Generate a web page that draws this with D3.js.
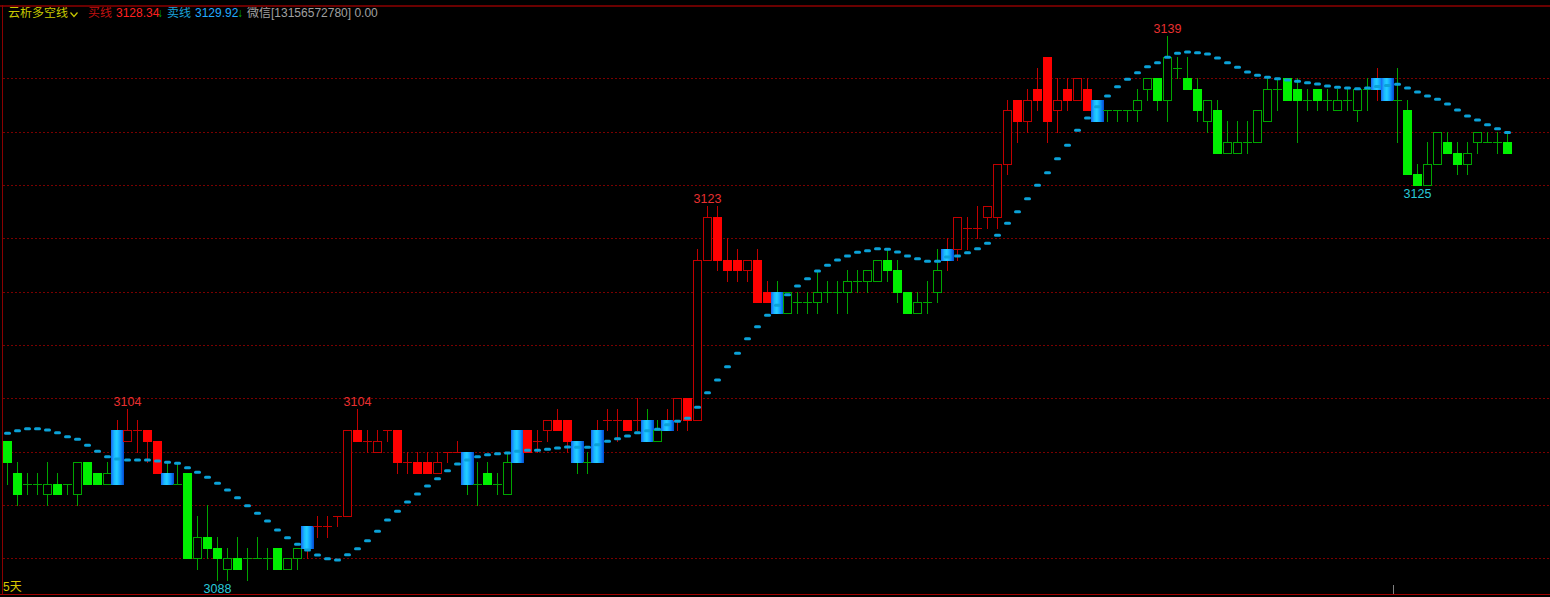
<!DOCTYPE html>
<html><head><meta charset="utf-8">
<script src="https://cdn.jsdelivr.net/npm/d3@7/dist/d3.min.js"></script>
<style>html,body{margin:0;padding:0;background:#000;overflow:hidden}svg{display:block}</style>
</head><body>
<svg id="c" width="1550" height="597"></svg>
<script>
// ---------------- data ----------------
const open = [
3101,3098,3097,3097,3096,3097,3097,3096,3099,3098,
3097,3097,3101,3102,3102,3101,3098,3097,3098,3090,
3092,3091,3089,3090,3090,3090,3090,3091,3089,3090,
3091,3093,3093,3094,3094,3102,3101,3100,3102,3102,
3099,3099,3099,3098,3100,3100,3100,3097,3098,3097,
3096,3099,3102,3101,3102,3103,3103,3101,3099,3099,
3103,3103,3103,3103,3103,3101,3102,3103,3105,3103,
3118,3122,3118,3118,3117,3118,3115,3115,3113,3114,
3114,3114,3115,3115,3115,3116,3116,3116,3118,3117,
3115,3113,3114,3115,3118,3119,3121,3121,3122,3122,
3127,3133,3131,3134,3137,3132,3134,3133,3134,3133,
3132,3132,3132,3132,3134,3135,3133,3136,3135,3134,
3131,3132,3128,3128,3129,3129,3131,3134,3135,3134,
3133,3134,3133,3132,3133,3132,3134,3134,3135,3133,
3132,3126,3125,3127,3129,3128,3127,3129,3129,3129,
3129];
const high = [
3101,3099,3098,3098,3099,3098,3097,3099,3099,3098,
3099,3103,3104,3103,3102,3101,3099,3099,3098,3094,
3095,3092,3091,3092,3091,3092,3091,3091,3090,3091,
3093,3094,3094,3094,3102,3104,3102,3102,3102,3102,
3100,3100,3100,3100,3100,3101,3100,3099,3099,3098,
3100,3102,3102,3102,3103,3104,3103,3101,3100,3103,
3104,3104,3103,3105,3104,3103,3104,3105,3105,3119,
3123,3123,3120,3119,3118,3119,3116,3116,3115,3115,
3115,3117,3116,3116,3117,3117,3117,3118,3119,3118,
3115,3115,3116,3119,3120,3122,3122,3123,3123,3127,
3133,3133,3134,3136,3137,3135,3135,3135,3135,3133,
3132,3132,3132,3134,3135,3135,3139,3137,3137,3135,
3133,3133,3131,3131,3131,3132,3135,3135,3135,3135,
3134,3134,3134,3134,3134,3134,3135,3136,3135,3136,
3133,3127,3129,3130,3130,3129,3129,3130,3130,3130,
3130];
const low = [
3097,3095,3096,3096,3095,3096,3096,3095,3097,3097,
3097,3097,3101,3100,3099,3098,3097,3097,3090,3089,
3090,3088,3088,3089,3088,3090,3089,3089,3089,3089,
3090,3092,3092,3093,3094,3101,3100,3100,3101,3098,
3098,3098,3098,3098,3099,3100,3096,3095,3097,3096,
3096,3099,3100,3100,3101,3102,3100,3098,3098,3099,
3102,3101,3102,3102,3101,3101,3102,3102,3102,3103,
3118,3117,3116,3116,3116,3114,3114,3113,3113,3113,
3113,3113,3114,3113,3113,3115,3115,3116,3116,3114,
3113,3113,3113,3114,3117,3118,3119,3120,3121,3121,
3126,3129,3130,3132,3129,3130,3132,3133,3132,3131,
3131,3131,3131,3131,3133,3132,3131,3135,3134,3131,
3130,3128,3128,3128,3128,3129,3131,3132,3133,3129,
3132,3132,3132,3132,3132,3131,3132,3133,3133,3129,
3126,3125,3125,3127,3128,3126,3126,3128,3129,3128,
3128];
const close = [
3099,3096,3097,3097,3097,3096,3097,3099,3097,3097,
3098,3102,3102,3102,3101,3098,3097,3097,3090,3092,
3091,3090,3090,3089,3090,3090,3090,3089,3090,3091,
3093,3093,3093,3094,3102,3101,3101,3101,3102,3099,
3099,3098,3098,3099,3100,3100,3097,3097,3097,3097,
3099,3102,3100,3101,3103,3102,3101,3099,3099,3102,
3103,3103,3102,3103,3101,3102,3103,3105,3103,3118,
3122,3118,3117,3117,3118,3114,3114,3113,3115,3114,
3114,3115,3115,3115,3116,3116,3117,3118,3117,3115,
3113,3114,3114,3117,3119,3122,3121,3121,3123,3127,
3132,3131,3133,3133,3131,3133,3133,3135,3132,3131,
3132,3132,3132,3133,3135,3133,3137,3136,3134,3132,
3133,3128,3129,3129,3129,3132,3134,3134,3133,3133,
3133,3133,3133,3133,3133,3134,3134,3135,3133,3133,
3126,3125,3127,3130,3128,3127,3128,3130,3129,3129,
3128];
// candle state: r = bull (red), g = bear (green), br/bg = blue candle with red/green shadow
const kind = [
'g','g','g','g','g','g','g','g','g','g',
'g','br','r','r','r','r','bg','g','g','g',
'g','g','g','g','g','g','g','g','g','g',
'br','r','r','r','r','r','r','r','r','r',
'r','r','r','r','r','r','bg','g','g','g',
'g','br','r','r','r','r','r','bg','g','br',
'r','r','r','r','bg','g','br','r','r','r',
'r','r','r','r','r','r','r','bg','g','g',
'g','g','g','g','g','g','g','g','g','g',
'g','g','g','g','br','r','r','r','r','r',
'r','r','r','r','r','r','r','r','r','bg',
'g','g','g','g','g','g','g','g','g','g',
'g','g','g','g','g','g','g','g','g','g',
'g','g','g','g','g','g','g','br','bg','g',
'g','g','g','g','g','g','g','g','g','g',
'g'];
// 卖线 (dotted line)
const sellLine = [
3101.72,3101.97,3102.15,3102.15,3102.03,3101.78,3101.40,3101.16,3100.60,3100.03,
3099.53,3099.31,3099.22,3099.22,3099.22,3099.13,3099.00,3098.91,3098.50,3098.07,
3097.60,3097.03,3096.41,3095.68,3094.93,3094.22,3093.50,3092.66,3091.93,3091.32,
3090.78,3090.31,3089.97,3089.84,3090.34,3090.90,3091.65,3092.53,3093.59,3094.41,
3095.28,3096.03,3096.78,3097.47,3098.22,3098.84,3099.22,3099.53,3099.72,3099.81,
3099.87,3100.03,3100.13,3100.13,3100.22,3100.34,3100.44,3100.41,3100.41,3100.65,
3100.97,3101.22,3101.47,3101.78,3101.97,3102.10,3102.53,3102.85,3103.13,3104.16,
3105.53,3106.72,3107.97,3109.22,3110.59,3111.72,3112.78,3113.72,3114.72,3115.53,
3116.22,3116.94,3117.47,3117.97,3118.34,3118.69,3118.84,3119.03,3118.97,3118.72,
3118.34,3118.09,3117.85,3117.85,3118.25,3118.34,3118.65,3119.03,3119.53,3120.28,
3121.41,3122.50,3123.72,3124.97,3126.15,3127.47,3128.72,3130.13,3131.28,3132.34,
3133.34,3134.22,3134.91,3135.53,3136.09,3136.47,3136.97,3137.35,3137.47,3137.40,
3137.28,3136.91,3136.47,3136.03,3135.59,3135.28,3135.10,3134.97,3134.84,3134.72,
3134.59,3134.47,3134.28,3134.16,3134.09,3134.03,3134.09,3134.23,3134.33,3134.44,
3134.09,3133.72,3133.34,3133.03,3132.59,3132.03,3131.47,3131.09,3130.65,3130.28,
3129.92];
const gridTicks = [3135,3130,3125,3120,3115,3110,3105,3100,3095,3090];
const highMarks = [12,35,70,116];   // candles whose high is labelled
const lowMarks  = [21,141];         // candles whose low is labelled
const header = {name:'云析多空线', buyLabel:'买线', buyValue:'3128.34', sellLabel:'卖线', sellValue:'3129.92', extra:'微信[13156572780] 0.00'};
const periodLabel = '5天';

// ---------------- drawing ----------------
const W = 1550, H = 597;
const svg = d3.select('#c');
svg.append('rect').attr('width',W).attr('height',H).attr('fill','#000');

const N = open.length;
const x = d3.scaleLinear().domain([0, N-1]).range([7, 1507]);
const y = d3.scaleLinear().domain([3090, 3135]).range([558.33, 78.33]);
const py = v => Math.round(y(v));

const FONT = '"Liberation Sans", Arial, "Noto Sans CJK SC", sans-serif';
const COL = {rLine:'#c00000', rFill:'#ff0000', gLine:'#00a400', gFill:'#00f000'};

const defs = svg.append('defs');
const grad = defs.append('linearGradient').attr('id','blueGrad').attr('x1','0').attr('x2','1').attr('y1','0').attr('y2','0');
[[0,'#1a64f0'],[0.25,'#1ab8ff'],[0.45,'#22d0ff'],[0.7,'#0f9cff'],[1,'#0448d0']].forEach(([o,c]) =>
  grad.append('stop').attr('offset',o).attr('stop-color',c));

// grid
svg.append('g').selectAll('line').data(gridTicks).join('line')
  .attr('x1',3).attr('x2',W).attr('y1',d=>py(d)+0.5).attr('y2',d=>py(d)+0.5)
  .attr('stroke','#7a0000').attr('stroke-width',1).attr('stroke-dasharray','2,2')
  .attr('shape-rendering','crispEdges');

// candles
const cg = svg.append('g').attr('shape-rendering','crispEdges');
d3.range(N).forEach(i => {
  const k = kind[i];
  const cx = Math.round(x(i));
  const o = open[i], c = close[i];
  const top = py(Math.max(o,c)), bot = py(Math.min(o,c));
  const yh = py(high[i]), yl = py(low[i]);
  const blue = k[0] === 'b';
  const red = blue ? k[1] === 'r' : k === 'r';
  const line = red ? COL.rLine : COL.gLine;
  const fill = red ? COL.rFill : COL.gFill;
  if (yh < top) cg.append('line').attr('x1',cx+0.5).attr('x2',cx+0.5).attr('y1',yh).attr('y2',top).attr('stroke',line);
  if (yl > bot) cg.append('line').attr('x1',cx+0.5).attr('x2',cx+0.5).attr('y1',bot).attr('y2',yl+1).attr('stroke',line);
  if (blue) {
    cg.append('rect').attr('x',cx-6).attr('y',top).attr('width',13).attr('height',Math.max(1,bot-top+1)).attr('fill','url(#blueGrad)');
  } else if (o === c) {
    cg.append('line').attr('x1',cx-4).attr('x2',cx+5).attr('y1',top+0.5).attr('y2',top+0.5).attr('stroke',line);
  } else if (c < o) {
    cg.append('rect').attr('x',cx-4).attr('y',top).attr('width',9).attr('height',bot-top+1).attr('fill',fill);
  } else {
    cg.append('rect').attr('x',cx-3.5).attr('y',top+0.5).attr('width',8).attr('height',bot-top).attr('fill','#000').attr('stroke',line);
  }
});

// 卖线 dots
svg.append('g').selectAll('rect').data(sellLine).join('rect')
  .attr('x',(d,i)=>Math.round(x(i))-3).attr('y',d=>y(d)-1.5)
  .attr('width',7).attr('height',3).attr('rx',1.5).attr('ry',1.5)
  .attr('fill','#0ba2d8');

// high / low labels
svg.append('g').selectAll('text').data(highMarks).join('text')
  .attr('x',i=>x(i)+0.5).attr('y',i=>py(high[i])-3)
  .attr('text-anchor','middle').attr('font-family',FONT).attr('font-size',12.5)
  .attr('fill','#e83030').text(i=>high[i]);
svg.append('g').selectAll('text').data(lowMarks).join('text')
  .attr('x',i=>x(i)+0.5).attr('y',i=>py(low[i])+13)
  .attr('text-anchor','middle').attr('font-family',FONT).attr('font-size',12.5)
  .attr('fill','#28c8d8').text(i=>low[i]);

// header
const hd = svg.append('g').attr('font-family',FONT).attr('font-size',12);
hd.append('text').attr('x',8).attr('y',17).attr('fill','#c8c800').text(header.name);
hd.append('path').attr('d','M70.5,12.5 L74,16.5 L77.5,12.5').attr('fill','none').attr('stroke','#c8c800').attr('stroke-width',1.2);
hd.append('text').attr('x',88).attr('y',17).attr('fill','#c01010').text(header.buyLabel);
hd.append('text').attr('x',116).attr('y',17).attr('fill','#ff2020').text(header.buyValue);
hd.append('text').attr('x',157).attr('y',17).attr('fill','#00b000').text('↓');
hd.append('text').attr('x',167).attr('y',17).attr('fill','#1aa0d8').text(header.sellLabel);
hd.append('text').attr('x',195).attr('y',17).attr('fill','#22aaff').text(header.sellValue);
hd.append('text').attr('x',237).attr('y',17).attr('fill','#00b000').text('↓');
hd.append('text').attr('x',247).attr('y',17).attr('fill','#a0a0a0').text(header.extra);

svg.append('text').attr('x',3).attr('y',591).attr('font-family',FONT).attr('font-size',12)
  .attr('fill','#d8c800').text(periodLabel);

// frame
const fr = svg.append('g').attr('shape-rendering','crispEdges');
fr.append('line').attr('x1',0).attr('x2',W).attr('y1',5.5).attr('y2',5.5).attr('stroke','#6a0000').attr('stroke-width',2);
fr.append('line').attr('x1',2.5).attr('x2',2.5).attr('y1',5).attr('y2',595).attr('stroke','#8a0000');
fr.append('line').attr('x1',0).attr('x2',W).attr('y1',594.5).attr('y2',594.5).attr('stroke','#a00000');
fr.append('line').attr('x1',1393.5).attr('x2',1393.5).attr('y1',585).attr('y2',594).attr('stroke','#808080');
</script>
</body></html>
